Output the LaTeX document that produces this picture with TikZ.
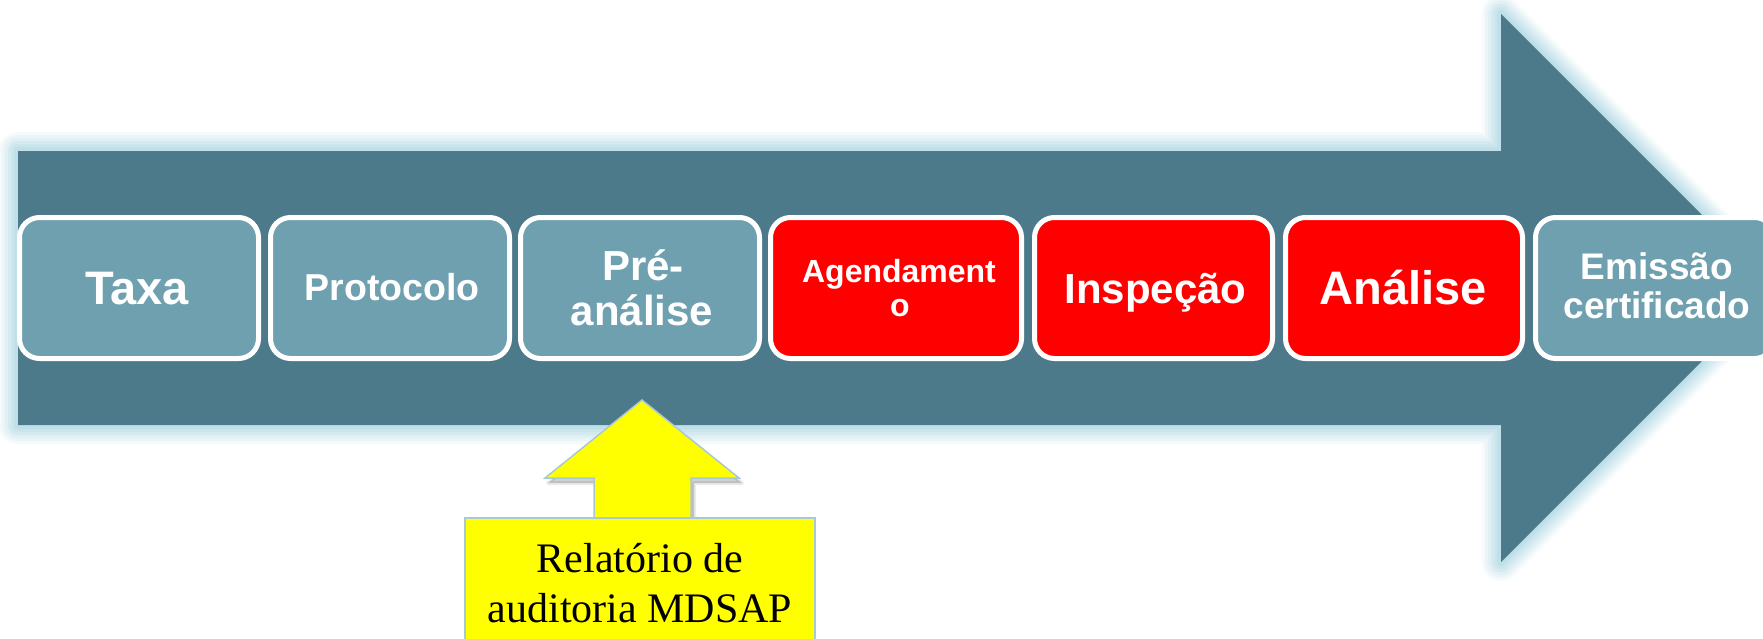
\documentclass[tikz,border=0pt]{standalone}
\usepackage{fontspec}
\setmainfont{Liberation Serif}
\setsansfont{Liberation Sans}
\usetikzlibrary{calc}
\definecolor{arrowblue}{HTML}{4D7A8A}
\definecolor{boxblue}{HTML}{6FA0B0}
\definecolor{glowblue}{HTML}{A6D4E2}
\definecolor{yel}{HTML}{FFFF00}
\definecolor{yedge}{HTML}{A9C8D6}
\begin{document}
\begin{tikzpicture}[x=1pt,y=-1pt,
  stepbox/.style={draw=white, line width=5pt, rounded corners=20pt, inner sep=0pt, minimum height=141pt},
  greybox/.style={stepbox, fill=boxblue},
  redbox/.style={stepbox, fill=red},
  lbl/.style={text=white, anchor=base, inner sep=0pt},
  bigarrow/.style={line join=round},
]
\useasboundingbox (0,0) rectangle (1763,638);
\fill[white] (0,0) rectangle (1763,638);
% glow of the big arrow
\def\bigpath{(18,151) -- (1501,151) -- (1501,14) -- (1775,288) -- (1501,562) -- (1501,425) -- (18,425) -- cycle}
\foreach \w/\o in {38/0.10, 32/0.12, 26/0.15, 20/0.18, 14/0.22, 8/0.28} {
  \draw[glowblue, line width=\w pt, opacity=\o, bigarrow] \bigpath;
}
\fill[arrowblue] \bigpath;
% step boxes
\node[greybox, minimum width=239pt] (taxa) at (139,288) {};
\node[greybox, minimum width=239pt] (prot) at (390,288) {};
\node[greybox, minimum width=239pt] (pre)  at (640,288) {};
\node[redbox,  minimum width=251pt] (agen) at (896,288) {};
\node[redbox,  minimum width=238pt] (insp) at (1153.5,288) {};
\node[redbox,  minimum width=237pt] (anal) at (1404,288) {};
\node[greybox, minimum width=239pt] (emis) at (1655,288) {};
% labels
\node[lbl, font=\sffamily\bfseries\fontsize{47}{47}\selectfont] (ltaxa) at ($(taxa.center)+(-2,16)$) {Taxa};
\node[lbl, font=\sffamily\bfseries\fontsize{37.5}{37.5}\selectfont] (lprot) at ($(prot.center)+(2,12)$) {Protocolo};
\node[lbl, font=\sffamily\bfseries\fontsize{42}{42}\selectfont] (lpre1) at ($(pre.center)+(3,-8)$) {Pré-};
\node[lbl, font=\sffamily\bfseries\fontsize{42}{42}\selectfont] (lpre2) at ($(pre.center)+(2,37)$) {análise};
\node[lbl, font=\sffamily\bfseries\fontsize{32}{32}\selectfont] (lagen1) at ($(agen.center)+(3,-6)$) {Agendament};
\node[lbl, font=\sffamily\bfseries\fontsize{32}{32}\selectfont] (lagen2) at ($(agen.center)+(4,28)$) {o};
\node[lbl, font=\sffamily\bfseries\fontsize{42}{42}\selectfont] (linsp) at ($(insp.center)+(2,15)$) {Inspeção};
\node[lbl, font=\sffamily\bfseries\fontsize{47}{47}\selectfont] (lanal) at ($(anal.center)+(-1,16)$) {Análise};
\node[lbl, font=\sffamily\bfseries\fontsize{37}{37}\selectfont] (lemis1) at ($(emis.center)+(2,-9)$) {Emissão};
\node[lbl, font=\sffamily\bfseries\fontsize{37}{37}\selectfont] (lemis2) at ($(emis.center)+(2,30)$) {certificado};
% yellow arrow with shadow
\def\ypath{(642,400) -- (739,478) -- (691,478) -- (691,518) -- (594,518) -- (594,478) -- (545,478) -- cycle}
\begin{scope}[shift={(3,5)}]
  \fill[black, opacity=0.18] \ypath;
  \draw[black, opacity=0.08, line width=4pt, line join=round] \ypath;
\end{scope}
\filldraw[fill=yel, draw=yedge, line width=1.5pt, line join=miter] \ypath;
\node[draw=yedge, fill=yel, line width=1.5pt, inner sep=0pt, minimum width=350pt, minimum height=142pt] (rel) at (640,589) {};
\node[anchor=base, inner sep=0pt, font=\fontsize{42}{42}\selectfont] (lrel1) at (640,572) {Relatório de};
\node[anchor=base, inner sep=0pt, font=\fontsize{42}{42}\selectfont] (lrel2) at (640,622) {auditoria MDSAP};
\end{tikzpicture}
\end{document}
